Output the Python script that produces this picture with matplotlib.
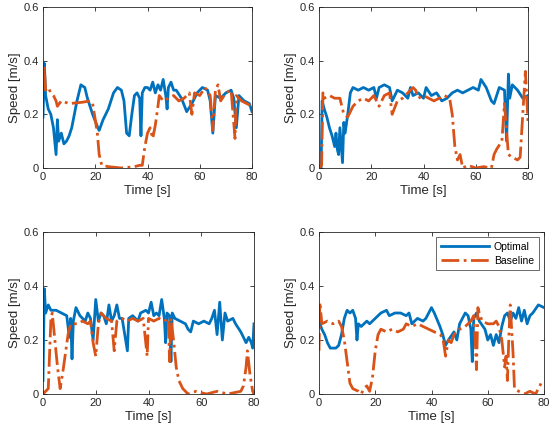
import matplotlib
matplotlib.use("Agg")
import matplotlib.pyplot as plt

# ---------------- data ----------------
# Top-left panel
tl_opt_t = [0, 0.5, 1, 2, 3, 4, 5, 5.5, 6, 7, 8, 9, 10, 11, 12, 13, 14.5, 16, 17, 19, 21, 21.5, 23, 25, 27, 28.5, 30, 31, 32, 33, 34, 35, 36, 37, 37.5, 38, 39, 40, 41, 42, 43, 44, 45, 46, 47, 47.5, 48, 49, 50, 51, 53, 55, 57, 59, 61, 63, 64, 65, 66, 68, 70, 72, 73, 74, 75, 77, 79, 80]
tl_opt_v = [0.19, 0.39, 0.27, 0.22, 0.2, 0.15, 0.05, 0.18, 0.1, 0.13, 0.09, 0.1, 0.12, 0.15, 0.2, 0.25, 0.31, 0.3, 0.26, 0.2, 0.15, 0.14, 0.18, 0.22, 0.28, 0.3, 0.29, 0.25, 0.13, 0.12, 0.2, 0.27, 0.28, 0.26, 0.12, 0.28, 0.3, 0.3, 0.29, 0.32, 0.28, 0.31, 0.29, 0.33, 0.27, 0.22, 0.3, 0.32, 0.29, 0.29, 0.26, 0.21, 0.24, 0.28, 0.3, 0.29, 0.25, 0.13, 0.27, 0.26, 0.28, 0.29, 0.26, 0.15, 0.27, 0.25, 0.24, 0.21]
tl_base_t = [0, 0.5, 1, 2, 3, 4, 5, 5.5, 7, 10, 15, 18, 19, 20, 20.8, 21.5, 22.5, 25, 30, 35, 37, 38, 39, 40, 41, 42, 43, 44, 44.5, 46, 48, 50, 52, 54, 56, 57, 58, 60, 62, 64, 65, 66, 67, 68, 70, 72, 73.5, 74, 76, 78, 80]
tl_base_v = [0.3, 0.38, 0.29, 0.3, 0.28, 0.27, 0.25, 0.23, 0.25, 0.24, 0.245, 0.25, 0.24, 0.18, 0.13, 0.05, 0.01, 0.005, 0.0, 0.005, 0.01, 0.01, 0.08, 0.13, 0.15, 0.11, 0.16, 0.23, 0.27, 0.25, 0.26, 0.27, 0.25, 0.26, 0.28, 0.2, 0.28, 0.27, 0.3, 0.27, 0.14, 0.29, 0.31, 0.25, 0.28, 0.29, 0.11, 0.27, 0.25, 0.24, 0.23]

# Top-right panel
tr_opt_t = [0, 0.8, 1.2, 2, 3, 4, 5, 6, 6.5, 7, 7.5, 8, 9, 9.5, 10, 11, 12, 13, 15, 17, 19, 21, 22, 23, 25, 27, 28, 30, 32, 34, 35, 36, 38, 40, 41, 43, 45, 47, 49, 51, 53, 55, 57, 59, 61, 62, 64, 66, 67, 69, 71, 71.8, 72.5, 73, 74, 76, 78, 80]
tr_opt_v = [0.0, 0.0, 0.25, 0.22, 0.19, 0.15, 0.12, 0.08, 0.13, 0.07, 0.05, 0.15, 0.02, 0.17, 0.13, 0.2, 0.28, 0.3, 0.29, 0.3, 0.29, 0.3, 0.26, 0.3, 0.31, 0.3, 0.25, 0.29, 0.28, 0.26, 0.3, 0.27, 0.28, 0.26, 0.3, 0.27, 0.28, 0.25, 0.26, 0.28, 0.29, 0.28, 0.29, 0.3, 0.29, 0.33, 0.3, 0.25, 0.24, 0.3, 0.29, 0.1, 0.35, 0.26, 0.31, 0.29, 0.26, 0.27]
tr_base_t = [0, 1, 1.5, 2, 4, 6, 8, 9.5, 11, 13, 15, 17, 19, 21, 23, 25, 27, 28, 30, 32, 34, 36, 37, 38, 40, 42, 44, 46, 48, 50, 51, 52, 53, 54, 55, 57, 60, 63, 66, 67, 68, 70, 71, 72.5, 74, 76, 77, 78, 79, 80]
tr_base_v = [0.0, 0.01, 0.28, 0.26, 0.27, 0.26, 0.26, 0.2, 0.19, 0.23, 0.25, 0.26, 0.25, 0.27, 0.23, 0.27, 0.28, 0.2, 0.25, 0.26, 0.28, 0.3, 0.29, 0.26, 0.27, 0.26, 0.25, 0.26, 0.27, 0.26, 0.2, 0.08, 0.03, 0.05, 0.0, 0.01, 0.0, 0.005, 0.0, 0.05, 0.07, 0.1, 0.24, 0.05, 0.04, 0.03, 0.04, 0.2, 0.36, 0.17]

# Bottom-left panel
bl_opt_t = [0, 0.5, 1, 2, 3, 5, 7, 9, 10, 10.5, 11, 11.5, 12.5, 14, 16, 17, 18, 19, 20, 21, 22, 23, 24, 25, 26, 27, 28, 29, 30, 32, 32.5, 34, 36, 37, 39, 40, 41, 42, 43, 44, 45, 46, 46.5, 47, 48, 48.5, 49, 50, 52, 54, 55, 56, 57, 59, 61, 63, 64, 65, 66, 67, 68, 69, 70, 72, 73, 75, 77, 78, 79, 79.5, 80]
bl_opt_v = [0.05, 0.39, 0.3, 0.33, 0.31, 0.31, 0.3, 0.29, 0.21, 0.28, 0.13, 0.27, 0.32, 0.29, 0.27, 0.3, 0.28, 0.2, 0.35, 0.27, 0.3, 0.29, 0.26, 0.33, 0.27, 0.29, 0.33, 0.28, 0.28, 0.16, 0.28, 0.29, 0.27, 0.3, 0.31, 0.3, 0.34, 0.29, 0.3, 0.29, 0.35, 0.28, 0.19, 0.3, 0.29, 0.12, 0.3, 0.28, 0.27, 0.26, 0.24, 0.23, 0.27, 0.26, 0.27, 0.26, 0.28, 0.31, 0.22, 0.34, 0.2, 0.3, 0.27, 0.28, 0.26, 0.23, 0.19, 0.21, 0.19, 0.17, 0.26]
bl_base_t = [0, 1, 2, 3, 3.5, 4.5, 5.5, 6.5, 7.5, 8.5, 9.5, 10.5, 13, 15, 17, 18, 19, 20, 21, 22, 24, 26, 27, 28, 30, 32, 34, 36, 38, 39.5, 40, 42, 44, 46, 47.5, 48, 48.5, 49.5, 50.5, 51.5, 53, 55, 58, 62, 66, 70, 75, 76, 77, 77.5, 78.5, 79.5, 80]
bl_base_v = [0.0, 0.01, 0.02, 0.28, 0.3, 0.2, 0.1, 0.02, 0.08, 0.15, 0.22, 0.26, 0.26, 0.27, 0.26, 0.27, 0.19, 0.14, 0.26, 0.3, 0.28, 0.27, 0.16, 0.27, 0.28, 0.27, 0.28, 0.27, 0.28, 0.14, 0.28, 0.27, 0.28, 0.27, 0.28, 0.12, 0.28, 0.2, 0.1, 0.05, 0.02, 0.0, 0.01, 0.0, 0.01, 0.0, 0.01, 0.03, 0.1, 0.16, 0.07, 0.01, 0.0]

# Bottom-right panel
br_opt_t = [0, 1, 2, 3, 4, 6, 7, 8, 9, 10, 11, 12, 13, 13.5, 14, 15, 17, 18, 19, 20, 22, 24, 25, 27, 29, 31, 32, 33, 35, 37, 38, 40, 41, 43, 44, 45, 46, 48, 49, 50, 52, 53, 54, 54.5, 55, 56, 57, 59, 60, 61, 62, 63, 64, 65, 66, 67, 68, 69, 70, 71, 72, 73, 74, 75, 76, 78, 80]
br_opt_v = [0.27, 0.24, 0.22, 0.19, 0.17, 0.17, 0.18, 0.22, 0.28, 0.31, 0.3, 0.31, 0.28, 0.2, 0.26, 0.25, 0.27, 0.26, 0.27, 0.28, 0.3, 0.31, 0.29, 0.3, 0.3, 0.29, 0.3, 0.26, 0.28, 0.27, 0.28, 0.32, 0.3, 0.25, 0.22, 0.18, 0.2, 0.23, 0.2, 0.26, 0.3, 0.29, 0.24, 0.12, 0.28, 0.3, 0.27, 0.24, 0.2, 0.22, 0.18, 0.22, 0.19, 0.25, 0.29, 0.3, 0.27, 0.3, 0.28, 0.32, 0.27, 0.31, 0.26, 0.29, 0.3, 0.33, 0.32]
br_base_t = [0, 0.3, 1, 3, 5, 7, 8, 9, 10, 11, 12, 14, 15, 16, 17, 18, 19, 20, 21, 22, 24, 26, 28, 30, 31, 33, 35, 37, 39, 41, 43, 44, 45, 46, 47, 48, 50, 52, 54, 55, 55.5, 56, 56.5, 57, 58, 60, 62, 63, 64, 65, 66, 66.5, 67, 67.5, 68, 69, 69.5, 71, 73, 75, 77, 78, 79, 80]
br_base_v = [0.16, 0.34, 0.26, 0.27, 0.26, 0.27, 0.25, 0.2, 0.12, 0.04, 0.02, 0.01, 0.0, 0.02, 0.03, 0.01, 0.06, 0.16, 0.22, 0.24, 0.23, 0.24, 0.23, 0.24, 0.26, 0.25, 0.26, 0.25, 0.24, 0.23, 0.22, 0.21, 0.14, 0.2, 0.19, 0.22, 0.24, 0.25, 0.27, 0.29, 0.21, 0.09, 0.32, 0.3, 0.27, 0.26, 0.26, 0.27, 0.25, 0.2, 0.1, 0.14, 0.05, 0.21, 0.33, 0.15, 0.02, 0.01, 0.0, 0.01, 0.0, 0.02, 0.04, 0.03]

series_labels = ["Optimal", "Baseline"]
x_ticks = [0, 20, 40, 60, 80]
y_ticks = [0, 0.2, 0.4, 0.6]
y_tick_labels = ["0", "0.2", "0.4", "0.6"]

panels = [
    (tl_opt_t, tl_opt_v, tl_base_t, tl_base_v),
    (tr_opt_t, tr_opt_v, tr_base_t, tr_base_v),
    (bl_opt_t, bl_opt_v, bl_base_t, bl_base_v),
    (br_opt_t, br_opt_v, br_base_t, br_base_v),
]

# ---------------- style ----------------
plt.rcParams['font.family'] = ['Liberation Sans', 'DejaVu Sans']
W, H = 553, 434
fig = plt.figure(figsize=(W / 100, H / 100), dpi=100)

# axes rectangles in pixels: left, top, right, bottom
rects = [
    (43, 7, 252, 168),
    (319, 7, 528, 168),
    (43, 232, 254, 394),
    (319, 232, 544, 394),
]

BLUE = '#0072BD'
ORANGE = '#D95319'
AXC = '#262626'

for i, ((ot, ov, bt, bv), (l, t, r, b)) in enumerate(zip(panels, rects)):
    ax = fig.add_axes([l / W, 1 - b / H, (r - l) / W, (b - t) / H])
    ax.plot(ot, ov, color=BLUE, lw=2.0, label=series_labels[0])
    ax.plot(bt, bv, color=ORANGE, lw=2.0, ls='-.', label=series_labels[1])
    ax.set_xlim(0, 80)
    ax.set_ylim(0, 0.6)
    ax.set_xticks(x_ticks)
    ax.set_yticks(y_ticks)
    ax.set_yticklabels(y_tick_labels)
    ax.tick_params(direction='in', length=3, width=0.6, colors=AXC,
                   labelsize=8, top=True, right=True, pad=3)
    for s in ax.spines.values():
        s.set_color(AXC)
        s.set_linewidth(0.6)
    ax.set_xlabel('Time [s]', fontsize=9.5, color=AXC, labelpad=2)
    ax.set_ylabel('Speed [m/s]', fontsize=9.5, color=AXC, labelpad=2)
    if i == 3:
        leg = ax.legend(loc='upper right', fontsize=7.5, frameon=True,
                        fancybox=False, edgecolor=AXC, handlelength=4.6,
                        borderpad=0.45, labelspacing=0.35, handletextpad=0.5,
                        borderaxespad=0.5)
        leg.get_frame().set_linewidth(0.6)

fig.savefig('out.png', dpi=100)
